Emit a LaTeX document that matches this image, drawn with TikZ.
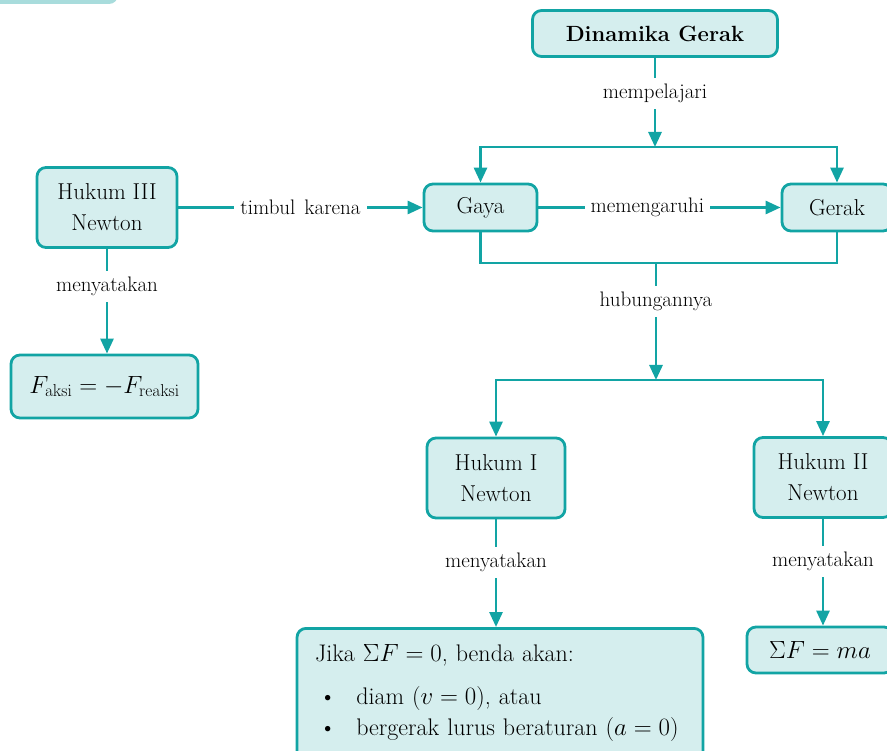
\documentclass[tikz,border=0pt]{standalone}
\usepackage{tikz}
\usetikzlibrary{arrows.meta}
\definecolor{tosca}{HTML}{12A4A4}
\definecolor{toscamuda}{HTML}{D5EEEE}
\definecolor{toscabar}{HTML}{A8DCDC}

\tikzset{
    kotak/.style={draw=tosca, fill=toscamuda, line width=2.8pt, rounded corners=9pt,
        font=\fontsize{23}{31}\selectfont, align=center, inner sep=0pt},
    ket/.style={fill=white, font=\fontsize{21}{24}\selectfont, inner sep=6pt},
    garis/.style={draw=tosca, line width=2.8pt},
    panah/.style={garis, -{Triangle[width=13pt,length=15pt]}}
}

\begin{document}
\begin{tikzpicture}[x=1pt, y=-1pt]
    \useasboundingbox (0,0) rectangle (887,751);
    \clip (0,0) rectangle (887,751);
    % draw bar at the top
    \fill[toscabar, rounded corners=9pt] (-20,-30) rectangle (118,4);
    % draw boxes
    \node[kotak, minimum width=245pt, minimum height=46pt,
          font=\bfseries\fontsize{22}{25}\selectfont] (din) at (655,33.5) {Dinamika Gerak};
    \node[kotak, minimum width=113pt, minimum height=47pt] (gaya) at (480.5,207.5) {Gaya};
    \node[kotak, minimum width=110pt, minimum height=47pt] (gerak) at (837,207.5) {Gerak};
    \node[kotak, minimum width=140pt, minimum height=80pt] (hk3) at (107,207.5) {Hukum III\\Newton};
    \node[kotak, minimum width=187pt, minimum height=63pt] (faksi) at (104.5,386.5)
        {$F_{\mathrm{aksi}} = -F_{\mathrm{reaksi}}$};
    \node[kotak, minimum width=138pt, minimum height=80pt] (hk1) at (496,478) {Hukum I\\Newton};
    \node[kotak, minimum width=138pt, minimum height=80pt] (hk2) at (823,477.5) {Hukum II\\Newton};
    \node[kotak, anchor=north, text width=370pt, inner xsep=18pt, inner ysep=16pt, align=left,
          font=\fontsize{24}{31}\selectfont] (jika) at (500,627)
        {Jika $\Sigma F = 0$, benda akan:\\[12pt]
         \hspace*{4pt}\textbullet\hspace{20pt}diam ($v = 0$), atau\\
         \hspace*{4pt}\textbullet\hspace{20pt}bergerak lurus beraturan ($a = 0$)\\[6pt]\mbox{}};
    \node[kotak, minimum width=146pt, minimum height=46pt] (sfma) at (820,650) {$\Sigma F = ma$};
    % branch points
    \coordinate (t1) at (655,147);
    \coordinate (t2) at (656,263);
    \coordinate (t3) at (656,380);
    % draw connectors
    \draw[panah] (din) -- node[ket, pos=0.4] {mempelajari} (t1);
    \draw[panah] (t1) -| (gaya.north);
    \draw[panah] (t1) -| (gerak.north);
    \draw[panah] (hk3) -- node[ket] {timbul\hspace{9pt}karena} (gaya);
    \draw[panah] (gaya) -- node[ket, pos=0.45] {memengaruhi} (gerak);
    \draw[garis] (gaya.south) |- (t2) -| (gerak.south);
    \draw[panah] (t2) -- node[ket, pos=0.33] {hubungannya} (t3);
    \draw[panah] (t3) -| (hk1.north);
    \draw[panah] (t3) -| (hk2.north);
    \draw[panah] (hk3.south) -- node[ket, pos=0.36] {menyatakan} (hk3.south |- faksi.north);
    \draw[panah] (hk1.south) -- node[ket, pos=0.4] {menyatakan} (hk1.south |- jika.north);
    \draw[panah] (hk2.south) -- node[ket, pos=0.4] {menyatakan} (hk2.south |- sfma.north);
\end{tikzpicture}
\end{document}
